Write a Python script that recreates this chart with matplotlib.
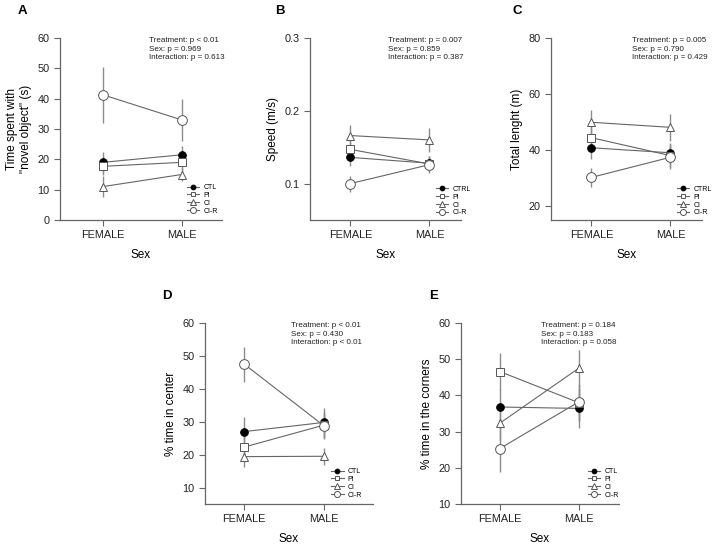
import matplotlib
matplotlib.use('Agg')
from matplotlib import pyplot as plt
import numpy as np

plt.rcParams['font.family'] = ['Liberation Sans', 'DejaVu Sans']

sexes = ['FEMALE', 'MALE']
groups_a = ['CTL', 'PI', 'CI', 'CI-R']
groups_b = ['CTRL', 'PI', 'CI', 'CI-R']

# panel A - time with novel object (s)
a_mean = {'CTL': [19.0, 21.5], 'PI': [17.7, 19.0], 'CI': [11.0, 15.0], 'CI-R': [41.3, 33.0]}
a_err = {'CTL': [3.5, 3.0], 'PI': [3.0, 3.0], 'CI': [3.5, 2.3], 'CI-R': [9.3, 6.8]}
a_stats = 'Treatment: p < 0.01\nSex: p = 0.969\nInteraction: p = 0.613'

# panel B - speed (m/s)
b_mean = {'CTRL': [0.136, 0.128], 'PI': [0.147, 0.127], 'CI': [0.166, 0.160], 'CI-R': [0.100, 0.126]}
b_err = {'CTRL': [0.012, 0.010], 'PI': [0.014, 0.010], 'CI': [0.015, 0.016], 'CI-R': [0.011, 0.012]}
b_stats = 'Treatment: p = 0.007\nSex: p = 0.859\nInteraction: p = 0.387'

# panel C - total length (m)
c_mean = {'CTRL': [40.8, 39.0], 'PI': [44.4, 38.0], 'CI': [49.9, 48.1], 'CI-R': [30.2, 37.4]}
c_err = {'CTRL': [4.0, 3.5], 'PI': [4.5, 4.0], 'CI': [4.4, 4.8], 'CI-R': [3.4, 4.2]}
c_stats = 'Treatment: p = 0.005\nSex: p = 0.790\nInteraction: p = 0.429'

# panel D - % time in center
d_mean = {'CTL': [27.0, 29.8], 'PI': [22.3, 29.0], 'CI': [19.4, 19.5], 'CI-R': [47.5, 28.7]}
d_err = {'CTL': [4.5, 4.4], 'PI': [4.0, 4.0], 'CI': [3.3, 2.5], 'CI-R': [5.3, 4.0]}
d_stats = 'Treatment: p < 0.01\nSex: p = 0.430\nInteraction: p < 0.01'

# panel E - % time in the corners
e_mean = {'CTL': [36.8, 36.4], 'PI': [46.6, 38.0], 'CI': [32.3, 47.5], 'CI-R': [25.3, 38.2]}
e_err = {'CTL': [5.0, 5.3], 'PI': [5.0, 5.0], 'CI': [5.0, 5.0], 'CI-R': [6.5, 5.0]}
e_stats = 'Treatment: p = 0.184\nSex: p = 0.183\nInteraction: p = 0.058'

line_col = '#666666'
edge_col = '#555555'
styles = [('o', 'black', 5.5), ('s', 'white', 5.5), ('^', 'white', 6.0), ('o', 'white', 7.0)]


def panel(rect, letter, means, errs, groups, stats, ylabel, ylim, yticks, xlim,
          leg_anchor, stats_x, letter_xy, yfmt=None):
    ax = fig.add_axes(rect)
    x = np.arange(len(sexes))
    for g, (m, fc, ms) in zip(groups, styles):
        ax.errorbar(x, means[g], yerr=errs[g], fmt='none', ecolor='#8c8c8c',
                    elinewidth=1.0, capsize=0, zorder=1)
    for g, (m, fc, ms) in zip(groups, styles):
        ax.plot(x, means[g], color=line_col, lw=0.8, marker=m, ms=ms,
                mfc=fc, mec='black' if fc == 'black' else edge_col, mew=0.7,
                label=g, zorder=3)
    ax.set_xlim(*xlim)
    ax.set_ylim(*ylim)
    ax.set_yticks(yticks)
    if yfmt:
        ax.set_yticklabels([yfmt.format(v) for v in yticks])
    ax.set_xticks(x)
    ax.set_xticklabels(sexes)
    for s in ['top', 'right']:
        ax.spines[s].set_visible(False)
    for s in ['left', 'bottom']:
        ax.spines[s].set_color('#666666')
        ax.spines[s].set_linewidth(0.9)
    ax.tick_params(axis='both', labelsize=7.8, colors='#222222', length=4,
                   width=0.8, direction='out')
    ax.tick_params(axis='both', color='#666666')
    ax.set_xlabel('Sex', fontsize=8.5, labelpad=6)
    ax.set_ylabel(ylabel, fontsize=8.5, labelpad=4)
    ax.text(stats_x, 1.005, stats, transform=ax.transAxes, fontsize=5.8,
            va='top', ha='left', linespacing=1.3, color='#222222')
    ax.legend(loc='lower right', bbox_to_anchor=leg_anchor, frameon=False,
              fontsize=5, borderpad=0, borderaxespad=0, labelspacing=0.12,
              handlelength=1.8, handletextpad=0.6, markerscale=0.62)
    fig.text(letter_xy[0] / 715, 1 - letter_xy[1] / 547, letter,
             fontsize=9.5, fontweight='bold', ha='center', va='center')
    return ax


fig = plt.figure(figsize=(7.15, 5.47), dpi=100)

panel([60 / 715, 1 - 220 / 547, 162 / 715, 182 / 547], 'A', a_mean, a_err, groups_a,
      a_stats, 'Time spent with\n"novel object" (s)', (0, 60), range(0, 61, 10),
      (-0.54, 1.51), (0.975, 0.03), 0.55, (22, 11))
panel([310 / 715, 1 - 220 / 547, 151 / 715, 182 / 547], 'B', b_mean, b_err, groups_b,
      b_stats, 'Speed (m/s)', (0.05, 0.3), [0.1, 0.2, 0.3],
      (-0.51, 1.4), (1.066, 0.02), 0.517, (280, 11), yfmt='{:.1f}')
panel([551 / 715, 1 - 220 / 547, 151 / 715, 182 / 547], 'C', c_mean, c_err, groups_b,
      c_stats, 'Total lenght (m)', (15, 80), [20, 40, 60, 80],
      (-0.51, 1.4), (1.066, 0.02), 0.536, (517, 11))
panel([205 / 715, 1 - 504 / 547, 168 / 715, 181 / 547], 'D', d_mean, d_err, groups_a,
      d_stats, '% time in center', (5, 60), range(10, 61, 10),
      (-0.49, 1.61), (0.935, 0.03), 0.51, (167, 296))
panel([461 / 715, 1 - 504 / 547, 158 / 715, 181 / 547], 'E', e_mean, e_err, groups_a,
      e_stats, '% time in the corners', (10, 60), range(10, 61, 10),
      (-0.49, 1.51), (1.0, 0.03), 0.506, (434, 296))

fig.savefig('out.png', dpi=100)
